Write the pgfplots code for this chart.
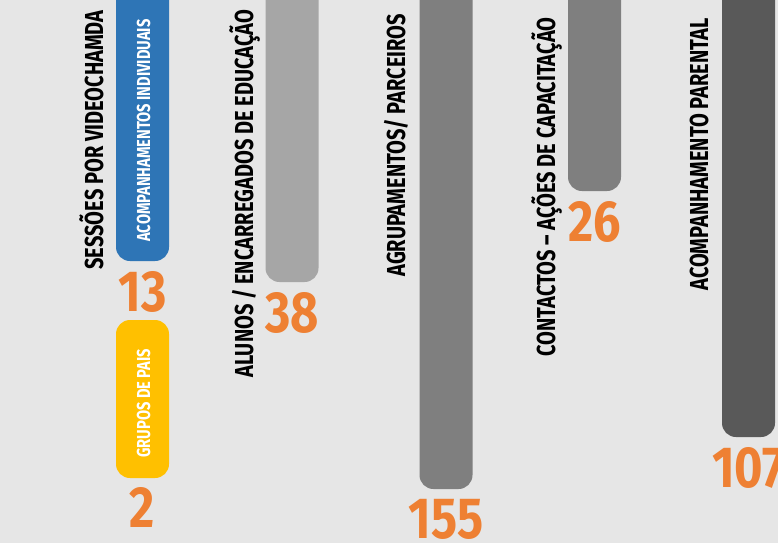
\documentclass[border=0pt]{standalone}
\usepackage{pgfplots}
\pgfplotsset{compat=1.18}
\usepackage{fontspec}
\setmainfont{Fira Sans}
% condensed look of the original (DIN-like)
\newfontfamily\din{Fira Sans}[FakeStretch=0.77]
\newfontfamily\dinb{Fira Sans}[FakeStretch=0.78]
\newfontfamily\dinn{Fira Sans}[FakeStretch=0.84]

\definecolor{fundo}{HTML}{E6E6E6}
\definecolor{azul}{HTML}{2E75B6}
\definecolor{amarelo}{HTML}{FFC000}
\definecolor{cinzaA}{HTML}{A6A6A6}
\definecolor{cinzaB}{HTML}{7F7F7F}
\definecolor{cinzaC}{HTML}{595959}
\definecolor{laranja}{HTML}{EE8033}

% 1 unit = 1 px of the reference (778 x 543), 0.5pt per px
\pgfplotsset{
  barra/.style={ybar, bar width=53, bar shift=0pt, draw=none,
    rounded corners=7pt,
    nodes near coords, point meta=explicit symbolic,
    every node near coord/.append style={anchor=north, inner sep=0pt,
      yshift=-5pt, text=laranja,
      font=\dinn\bfseries\fontsize{29}{29}\selectfont}},
}
\tikzset{
  rotulo/.style={rotate=90, anchor=base west, inner sep=0pt,
    font=\din\bfseries\fontsize{13}{13}\selectfont},
  rotulob/.style={rotate=90, anchor=base west, inner sep=0pt, text=white,
    font=\dinb\bfseries\fontsize{9.4}{9.4}\selectfont},
}

\begin{document}
\begin{tikzpicture}
% the axis runs 20 units above the page, so the bars' top corners are cut off
\clip (0,0) rectangle (389pt,271.5pt);
\fill[fundo] (0,0) rectangle (389pt,271.5pt);
\begin{axis}[
  at={(0,0)}, anchor=south west,
  scale only axis, width=389pt, height=281.5pt,
  xmin=0, xmax=778,
  ymin=0, ymax=563, y dir=reverse,
  y filter/.expression={y+20},
  axis lines=none,
]
  % bar centre, bar end (px from top) [value]
  \addplot[barra, fill=azul]   coordinates {(142.5,261) [13]};
  \addplot[barra, fill=cinzaA] coordinates {(292,282) [38]};
  \addplot[barra, fill=cinzaB] coordinates {(446,489) [155]};
  \addplot[barra, fill=cinzaB] coordinates {(594.5,191) [26]};
  \addplot[barra, fill=cinzaC] coordinates {(748.5,437) [107]};
  % floating bar: grupos de pais
  \addplot[fill=amarelo, draw=none, rounded corners=7pt]
    coordinates {(116,320) (169,320) (169,478) (116,478)} -- cycle;
  \node[anchor=north, inner sep=0pt, text=laranja,
    font=\dinn\bfseries\fontsize{29}{29}\selectfont]
    at (axis cs:142.5,507) {2};

  \node[rotulo]  at (axis cs:103,290) {SESSÕES POR VIDEOCHAMDA};
  \node[rotulob] at (axis cs:150,262) {ACOMPANHAMENTOS INDIVIDUAIS};
  \node[rotulob] at (axis cs:150,478) {GRUPOS DE PAIS};
  \node[rotulo]  at (axis cs:253,398) {ALUNOS / ENCARREGADOS DE EDUCAÇÃO};
  \node[rotulo]  at (axis cs:405,297) {AGRUPAMENTOS/ PARCEIROS};
  \node[rotulo]  at (axis cs:555,377) {CONTACTOS – AÇÕES DE CAPACITAÇÃO};
  \node[rotulo]  at (axis cs:708,311) {ACOMPANHAMENTO PARENTAL};
\end{axis}
\end{tikzpicture}
\end{document}
